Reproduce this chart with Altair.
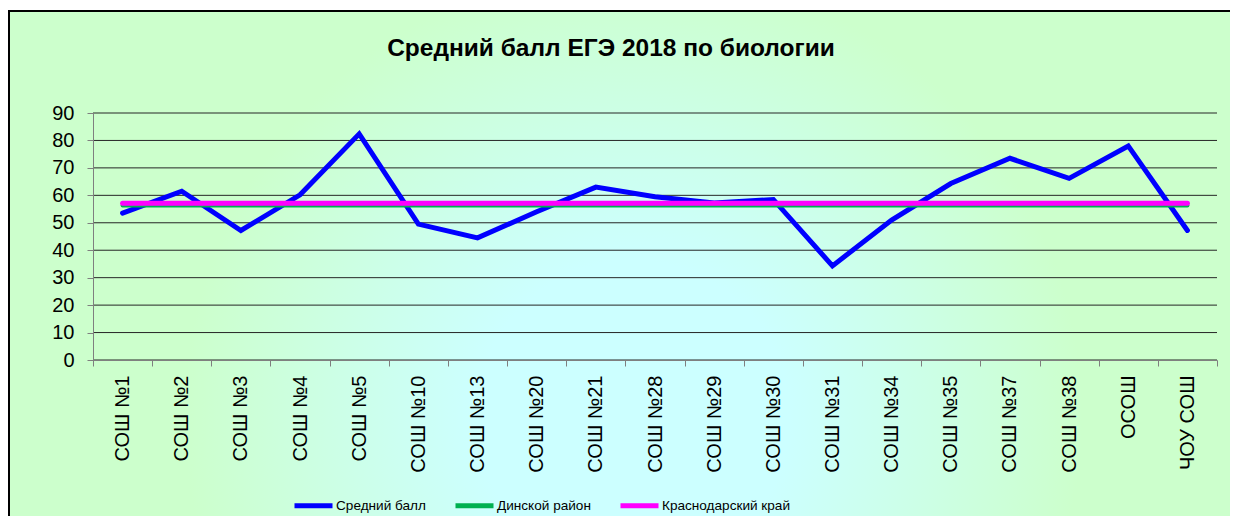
import altair as alt
import pandas as pd

schools = ["СОШ №1", "СОШ №2", "СОШ №3", "СОШ №4", "СОШ №5", "СОШ №10", "СОШ №13",
           "СОШ №20", "СОШ №21", "СОШ №28", "СОШ №29", "СОШ №30", "СОШ №31", "СОШ №34",
           "СОШ №35", "СОШ №37", "СОШ №38", "ОСОШ", "ЧОУ СОШ"]
avg_score = [53.5, 61.5, 47.2, 60.2, 82.4, 49.5, 44.5, 54.0, 63.0, 59.5, 57.2, 58.5,
             34.3, 51.0, 64.3, 73.5, 66.2, 78.0, 47.2]
dinsk_value = 56.3
krasnodar_value = 57.1

series_names = ["Средний балл", "Динской район", "Краснодарский край"]
series_colors = ["#0000FF", "#00B050", "#FF00FF"]
y_ticks = [0, 10, 20, 30, 40, 50, 60, 70, 80, 90]
title_text = "Средний балл ЕГЭ 2018 по биологии"

def frame(name, values):
    return pd.DataFrame({"school": schools, "value": values, "series": name})

df_avg = frame(series_names[0], avg_score)
df_dinsk = frame(series_names[1], [dinsk_value] * len(schools))
df_kras = frame(series_names[2], [krasnodar_value] * len(schools))
df_grid = pd.DataFrame({"value": y_ticks})

FONT = "Liberation Sans"

W, H = 1124, 247

x_enc = alt.X("school:N", sort=schools, bandPosition=0.5,
              scale=alt.Scale(type="band", paddingInner=0, paddingOuter=0),
              axis=alt.Axis(title=None, labelAngle=-90, tickBand="extent", grid=False,
                            domainColor="#7f7f7f", tickColor="#7f7f7f", tickSize=6,
                            labelFont=FONT, labelFontSize=20, labelColor="black",
                            labelPadding=9, zindex=1))
y_axis = alt.Axis(title=None, values=y_ticks, grid=False, domainColor="#7f7f7f",
                  tickColor="#7f7f7f", tickSize=6, labelFont=FONT, labelFontSize=20,
                  labelColor="black", labelPadding=13, zindex=1)
y_scale = alt.Scale(domain=[0, 90], nice=False, zero=True)
y_enc = alt.Y("value:Q", scale=y_scale, axis=y_axis)

color_enc = alt.Color("series:N",
                      scale=alt.Scale(domain=series_names, range=series_colors),
                      legend=alt.Legend(title=None, orient="none", legendX=199, legendY=371,
                                        direction="horizontal", symbolType="stroke",
                                        symbolSize=1444, symbolStrokeWidth=5,
                                        labelFont=FONT, labelFontSize=13.6, labelLimit=400,
                                        labelColor="black", labelOffset=1,
                                        columnPadding=19, padding=0))

gradient = alt.RadialGradient(
    gradient="radial",
    stops=[alt.GradientStop(color="#CCFFFF", offset=0),
           alt.GradientStop(color="#CCFFFF", offset=0.25),
           alt.GradientStop(color="#CCFFCC", offset=0.72),
           alt.GradientStop(color="#CCFFCC", offset=1)],
    x1=0.5, y1=0.6, r1=0, x2=0.5, y2=0.6, r2=0.5)

bg = alt.Chart(pd.DataFrame({"k": [0]})).mark_rect(
    fill=gradient, stroke="black", strokeWidth=2
).encode(x=alt.value(-84), x2=alt.value(W + 40), y=alt.value(-102), y2=alt.value(460))

grid = alt.Chart(df_grid).mark_rule(color="#262626", strokeWidth=1).encode(y=y_enc)

def line(df, width):
    return alt.Chart(df).mark_line(strokeWidth=width, strokeCap="round").encode(
        x=x_enc, y=y_enc, color=color_enc)

chart = alt.layer(
    bg,
    grid,
    line(df_avg, 5),
    line(df_dinsk, 4),
    line(df_kras, 5),
).properties(
    width=W, height=H,
    padding={"left": 85, "top": 105, "right": 13, "bottom": 156},
    autosize=alt.AutoSizeParams(type="none"),
    title=alt.TitleParams(title_text, font=FONT, fontSize=24.5, fontWeight="bold",
                          color="black", anchor="middle", frame="group",
                          dx=-44, dy=70, offset=0, baseline="alphabetic"),
).configure_view(stroke=None).configure(background="white")

chart.save("out.html", embed_options={"renderer": "svg", "actions": False})
